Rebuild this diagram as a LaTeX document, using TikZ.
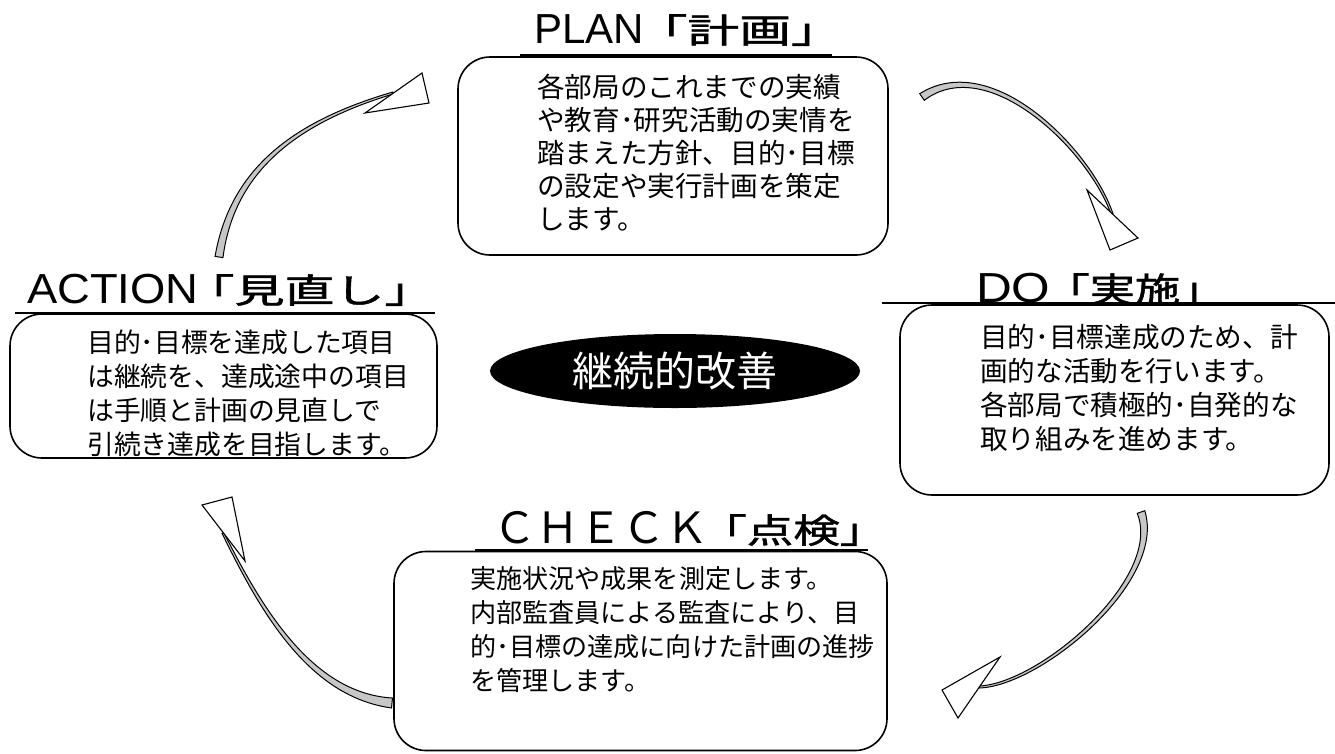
\documentclass[tikz,border=0pt]{standalone}
\usepackage{fontspec}
\usepackage{graphicx}
\usetikzlibrary{shapes.geometric,calc}
\newfontfamily\jp{Noto Sans CJK JP}
\newfontfamily\jpt[FakeBold=1.3]{Noto Sans CJK JP}
\newfontfamily\lat{Liberation Sans}
% #1 latin x-scale, #2 latin text, #3 kern, #4 cjk x-scale, #5 cjk text
\newcommand\ttlbox[5]{\scalebox{#1}[1]{\lat\fontsize{42}{42}\selectfont #2}\hspace{#3}\scalebox{#4}[1]{\jpt\fontsize{34}{34}\selectfont #5}}
\newcommand\bodytext[3]{\parbox[t]{520pt}{\jp\fontsize{#1}{#2}\selectfont\raggedright #3}}
\newcommand\drawshaft[5]{%
 \draw[shaft] ($(#1T)!#2!90:(#1a)$) .. controls ($(#1a)!#3!90:(#1b)$) and ($(#1b)!#4!90:(#1H)$) .. ($(#1H)!#5!-90:(#1b)$)
   -- ($(#1H)!#5!90:(#1b)$) .. controls ($(#1b)!#4!-90:(#1H)$) and ($(#1a)!#3!-90:(#1b)$) .. ($(#1T)!#2!-90:(#1a)$) -- cycle;}
\begin{document}
\begin{tikzpicture}[x=1pt,y=-1pt,
  panel/.style={draw, line width=1.6pt, rounded corners=32pt, fill=white, inner sep=0pt},
  body/.style={anchor=base west, inner sep=0pt},
  ttl/.style={anchor=base west, inner sep=0pt},
  uline/.style={line width=1.2pt},
  shaft/.style={draw, line width=1pt, fill=black!22},
  head/.style={draw, line width=1.1pt, fill=white, line join=miter},
  center/.style={ellipse, fill=black, inner sep=0pt, minimum width=370pt, minimum height=74pt, text=white}]
\useasboundingbox (0,0) rectangle (1335,753);

% ---------- curved arrows ----------
% PLAN -> DO
\coordinate (p1T) at (922,97);  \coordinate (p1a) at (990,50);
\coordinate (p1b) at (1090,150); \coordinate (p1H) at (1112,214);
\coordinate (p1A) at (1087,190); \coordinate (p1B) at (1110,250); \coordinate (p1C) at (1138,238);
% DO -> CHECK
\coordinate (p2T) at (1141,512); \coordinate (p2a) at (1165,580);
\coordinate (p2b) at (1040,685); \coordinate (p2H) at (979,687);
\coordinate (p2A) at (1000,657); \coordinate (p2B) at (942,690); \coordinate (p2C) at (958,718);
% CHECK -> ACTION
\coordinate (p3T) at (392,703);  \coordinate (p3a) at (312,695);
\coordinate (p3b) at (263,614);  \coordinate (p3H) at (223,533);
\coordinate (p3A) at (202,505);  \coordinate (p3B) at (232,497); \coordinate (p3C) at (245,561);
% ACTION -> PLAN
\coordinate (p4T) at (219,257);  \coordinate (p4a) at (232,172);
\coordinate (p4b) at (292,123);  \coordinate (p4H) at (393,93);
\coordinate (p4A) at (365,113);  \coordinate (p4B) at (429,103); \coordinate (p4C) at (422,73);

\drawshaft{p1}{4pt}{3pt}{1.5pt}{1pt}
\drawshaft{p2}{4pt}{3pt}{1.5pt}{1pt}
\drawshaft{p3}{5pt}{3pt}{1.5pt}{1pt}
\drawshaft{p4}{4pt}{3pt}{1.5pt}{1pt}
\foreach \k in {1,2,3,4}{\draw[head] (p\k A) -- (p\k B) -- (p\k C) -- cycle;}

% ---------- title underlines ----------
\coordinate (u1a) at (520,55);  \coordinate (u1b) at (832,55);
\coordinate (u2a) at (882,303); \coordinate (u2b) at (1335,303);
\coordinate (u3a) at (475,550); \coordinate (u3b) at (868,550);
\coordinate (u4a) at (15,313);  \coordinate (u4b) at (435,313);
\draw[uline] (u1a) -- (u1b);
\draw[uline] (u2a) -- (u2b);
\draw[uline] (u3a) -- (u3b);
\draw[uline] (u4a) -- (u4b);

% ---------- panels ----------
\node[panel, minimum width=430pt, minimum height=198pt] (planbox) at (673,156) {};
\node[panel, minimum width=429pt, minimum height=190pt] (dobox) at (1114.5,400) {};
\node[panel, minimum width=427pt, minimum height=144pt] (actbox) at (223.5,386) {};
\node[panel, minimum width=493pt, minimum height=199pt] (chkbox) at (640.5,651) {};

% ---------- titles ----------
\node[ttl] (plantitle) at (534,43) {\ttlbox{1}{PLAN}{-8pt}{1.52}{「計画」}};
\node[ttl] (dotitle) at (976,302) {\ttlbox{1.18}{DO}{-6pt}{1.33}{「実施」}};
\node[ttl] (acttitle) at (27,303) {\ttlbox{1.08}{ACTION}{-14pt}{1.47}{「見直し」}};
\node[ttl] (chktitle) at (493,543) {{\jp\fontsize{43}{43}\selectfont ＣＨＥＣＫ}\hspace{-8pt}\scalebox{1.37}[1]{\jpt\fontsize{34}{34}\selectfont 「点検」}};

% ---------- texts ----------
\node[body] (plantext) at (537,97) {\bodytext{27.6pt}{33pt}{各部局のこれまでの実績\\や教育･研究活動の実情を\\踏まえた方針、目的･目標\\の設定や実行計画を策定\\します。}};
\node[body] (dotext) at (980,347) {\bodytext{27.6pt}{34pt}{目的･目標達成のため、計\\画的な活動を行います。\\各部局で積極的･自発的な\\取り組みを進めます。}};
\node[body] (chktext) at (470,588) {\bodytext{26.1pt}{34pt}{実施状況や成果を測定します。\\内部監査員による監査により、目\\的･目標の達成に向けた計画の進捗\\を管理します。}};
\node[body] (acttext) at (87,352) {\bodytext{26.8pt}{34pt}{目的･目標を達成した項目\\は継続を、達成途中の項目\\は手順と計画の見直しで\\引続き達成を目指します。}};

% ---------- centre ----------
\node[center] (kaizen) at (675,371) {\jp\fontsize{41}{41}\selectfont 継続的改善};
\end{tikzpicture}
\end{document}
